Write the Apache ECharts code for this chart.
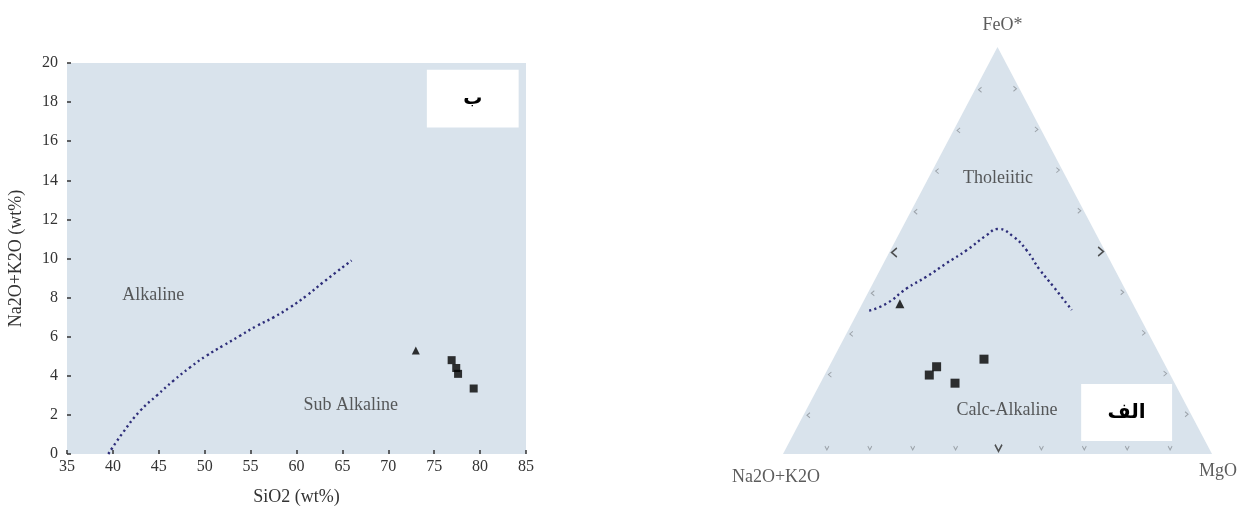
<!DOCTYPE html>
<html><head><meta charset="utf-8">
<script src="https://cdn.jsdelivr.net/npm/echarts@6/dist/echarts.min.js"></script>
<style>html,body{margin:0;padding:0;background:#fff}#c{width:1242px;height:511px}</style>
</head><body><div id="c"></div>
<script>
// ---------- Left chart (TAS-like, SiO2 vs Na2O+K2O) ----------
const siO2Range = [35, 85];
const alkRange = [0, 20];
const divideSiO2 = [39.5, 41.1, 42.95, 44.8, 46.6, 48.4, 50.2, 52.0, 53.85, 55.7, 57.5, 59.3, 61.1, 62.9, 66.0];
const divideAlk  = [0, 1.1, 2.2, 3.0, 3.75, 4.43, 5.03, 5.54, 6.05, 6.56, 6.99, 7.5, 8.1, 8.78, 9.9];
const triSiO2 = [73.0];
const triAlk  = [5.3];
const sqSiO2 = [76.9, 77.4, 77.6, 79.3];
const sqAlk  = [4.8, 4.4, 4.1, 3.35];
const leftLabels = ['Alkaline', 'Sub Alkaline'];
const leftLabelSiO2 = [44.4, 65.9];
const leftLabelAlk  = [8.1, 2.5];
const leftPanel = 'ب';
const leftPanelBox = [[74.2, 19.65], [84.2, 16.7]];

// ---------- Right chart (AFM ternary) ----------
// compositions as [A = Na2O+K2O, F = FeO*, M = MgO]
const cornerNames = ['Na2O+K2O', 'FeO*', 'MgO'];
const curveA = [0.623, 0.573, 0.508, 0.447, 0.384, 0.321, 0.256, 0.222, 0.196, 0.182, 0.175, 0.164, 0.150];
const curveF = [0.352, 0.370, 0.407, 0.436, 0.469, 0.501, 0.538, 0.553, 0.534, 0.501, 0.452, 0.411, 0.354];
const curveM = [0.025, 0.057, 0.085, 0.117, 0.147, 0.178, 0.206, 0.225, 0.270, 0.317, 0.373, 0.425, 0.496];
const afmTriA = [0.543]; const afmTriF = [0.369]; const afmTriM = [0.088];
const afmSqA = [0.535, 0.562, 0.512, 0.415];
const afmSqF = [0.2145, 0.194, 0.174, 0.233];
const afmSqM = [0.251, 0.244, 0.314, 0.352];
const afmLabels = ['Tholeiitic', 'Calc-Alkaline'];
const afmLabA = [0.160, 0.424]; const afmLabF = [0.678, 0.108]; const afmLabM = [0.162, 0.468];
const tickFractions = [0.1, 0.2, 0.3, 0.4, 0.5, 0.6, 0.7, 0.8, 0.9];
const rightPanel = 'الف';
// panel box in ternary-plane coordinates
const rightPanelBox = [[0.695, 0.172], [0.907, 0.032]];

// ternary -> plane (x = M + F/2, y = F)
function tern(a, f, m) { const s = a + f + m; return [(m + f / 2) / s, f / s]; }

const SERIF = "'Liberation Serif','Times New Roman',serif";
const TXT = '#333333';
const BG = '#d9e3ec';
const DOT = '#2e2e7a';
const DOTSTYLE = { color: DOT, width: 2.4, type: [2.2, 3.2] };

const chart = echarts.init(document.getElementById('c'));

const tickSmall = '#8c9299', tickBig = '#2a2a2a';
const pathLeft = 'path://M6,0L0,4L6,8';
const pathRight = 'path://M0,0L6,4L0,8';
const pathDown = 'path://M0,0L4,6L8,0';
function tickSeries(points, path, offset) {
  return {
    type: 'scatter', xAxisIndex: 1, yAxisIndex: 1, silent: true, z: 3,
    symbol: path, symbolKeepAspect: true, symbolOffset: offset,
    data: points.map(p => ({
      value: p.v,
      symbolSize: p.big ? [7, 9] : [4, 5],
      itemStyle: { color: 'rgba(0,0,0,0)', borderColor: p.big ? tickBig : tickSmall, borderWidth: p.big ? 1.6 : 1 }
    }))
  };
}
const leftTicks = tickFractions.map(f => ({ v: tern(1 - f, f, 0), big: f === 0.5 }));
const rightTicks = tickFractions.map(f => ({ v: tern(0, f, 1 - f), big: f === 0.5 }));
const bottomTicks = tickFractions.map(f => ({ v: tern(1 - f, 0, f), big: f === 0.5 }));

const corners = [tern(1, 0, 0), tern(0, 1, 0), tern(0, 0, 1)];

chart.setOption({
  animation: false,
  backgroundColor: '#ffffff',
  grid: [
    { left: 67, top: 63, width: 459, height: 392, show: true, backgroundColor: BG, borderWidth: 0 },
    { left: 783, top: 47, width: 429, height: 407, show: false }
  ],
  xAxis: [
    { gridIndex: 0, type: 'value', min: siO2Range[0], max: siO2Range[1], interval: 5,
      name: 'SiO2 (wt%)', nameLocation: 'middle', nameGap: 34,
      nameTextStyle: { fontFamily: SERIF, fontSize: 18, color: TXT },
      axisLine: { show: false }, splitLine: { show: false },
      axisTick: { show: true, inside: true, length: 4, lineStyle: { color: '#333', width: 1.5 } },
      axisLabel: { fontFamily: SERIF, fontSize: 16, color: TXT, margin: 5 } },
    { gridIndex: 1, type: 'value', min: 0, max: 1, show: false }
  ],
  yAxis: [
    { gridIndex: 0, type: 'value', min: alkRange[0], max: alkRange[1], interval: 2,
      name: 'Na2O+K2O (wt%)', nameLocation: 'middle', nameGap: 42,
      nameTextStyle: { fontFamily: SERIF, fontSize: 18, color: TXT },
      axisLine: { show: false }, splitLine: { show: false },
      axisTick: { show: true, inside: true, length: 4, lineStyle: { color: '#333', width: 1.5 } },
      axisLabel: { fontFamily: SERIF, fontSize: 16, color: TXT, margin: 9 } },
    { gridIndex: 1, type: 'value', min: 0, max: 1, show: false }
  ],
  series: [
    // ----- left -----
    { type: 'line', xAxisIndex: 0, yAxisIndex: 0, smooth: true, symbol: 'none', silent: true,
      data: divideSiO2.map((x, i) => [x, divideAlk[i]]),
      lineStyle: DOTSTYLE,
      markArea: { silent: true, itemStyle: { color: '#ffffff' },
        label: { show: true, position: 'inside', fontFamily: "'DejaVu Sans',sans-serif", fontWeight: 'bold', fontSize: 19, color: '#000' },
        data: [[{ name: leftPanel, coord: leftPanelBox[0] }, { coord: leftPanelBox[1] }]] } },
    { type: 'scatter', xAxisIndex: 0, yAxisIndex: 0, symbol: 'triangle', symbolSize: 8,
      itemStyle: { color: '#000' }, data: triSiO2.map((x, i) => [x, triAlk[i]]) },
    { type: 'scatter', xAxisIndex: 0, yAxisIndex: 0, symbol: 'rect', symbolSize: 8,
      itemStyle: { color: '#000' }, data: sqSiO2.map((x, i) => [x, sqAlk[i]]) },
    { type: 'scatter', xAxisIndex: 0, yAxisIndex: 0, symbolSize: 0, silent: true,
      label: { show: true, position: 'inside', formatter: p => p.name, fontFamily: SERIF, fontSize: 18, color: TXT },
      data: leftLabels.map((n, i) => ({ name: n, value: [leftLabelSiO2[i], leftLabelAlk[i]] })) },
    // ----- right (ternary) -----
    { type: 'line', xAxisIndex: 1, yAxisIndex: 1, symbol: 'none', silent: true, z: 0,
      data: [corners[0], corners[1], corners[2]],
      lineStyle: { width: 0 }, areaStyle: { color: BG, opacity: 1 } },
    tickSeries(leftTicks, pathLeft, [4, 2]),
    tickSeries(rightTicks, pathRight, [-4, 1]),
    tickSeries(bottomTicks, pathDown, [1, -6]),
    { type: 'line', xAxisIndex: 1, yAxisIndex: 1, smooth: true, symbol: 'none', silent: true, z: 4,
      data: curveA.map((a, i) => tern(a, curveF[i], curveM[i])),
      lineStyle: DOTSTYLE,
      markArea: { silent: true, z: 6, itemStyle: { color: '#ffffff' },
        label: { show: true, position: 'inside', fontFamily: "'DejaVu Sans',sans-serif", fontWeight: 'bold', fontSize: 20, color: '#000' },
        data: [[{ name: rightPanel, coord: rightPanelBox[0] }, { coord: rightPanelBox[1] }]] } },
    { type: 'scatter', xAxisIndex: 1, yAxisIndex: 1, symbol: 'triangle', symbolSize: 9, z: 5,
      itemStyle: { color: '#000' }, data: afmTriA.map((a, i) => tern(a, afmTriF[i], afmTriM[i])) },
    { type: 'scatter', xAxisIndex: 1, yAxisIndex: 1, symbol: 'rect', symbolSize: 9, z: 5,
      itemStyle: { color: '#000' }, data: afmSqA.map((a, i) => tern(a, afmSqF[i], afmSqM[i])) },
    { type: 'scatter', xAxisIndex: 1, yAxisIndex: 1, symbolSize: 0, silent: true, z: 5,
      label: { show: true, position: 'inside', formatter: p => p.name, fontFamily: SERIF, fontSize: 18, color: TXT },
      data: afmLabels.map((n, i) => ({ name: n, value: tern(afmLabA[i], afmLabF[i], afmLabM[i]) })) },
    { type: 'scatter', xAxisIndex: 1, yAxisIndex: 1, symbolSize: 0, silent: true, clip: false, z: 5,
      label: { show: true, formatter: p => p.name, fontFamily: SERIF, fontSize: 18, color: TXT },
      data: [
        { name: cornerNames[0], value: corners[0], label: { position: 'inside', offset: [-7, 23] } },
        { name: cornerNames[1], value: corners[1], label: { position: 'inside', offset: [5, -22] } },
        { name: cornerNames[2], value: corners[2], label: { position: 'inside', offset: [6, 17] } }
      ] }
  ]
});
</script></body></html>
